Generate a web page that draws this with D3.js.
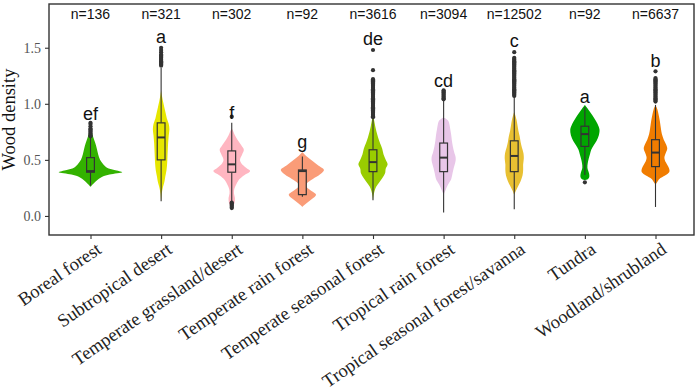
<!DOCTYPE html>
<html><head><meta charset="utf-8">
<script src="https://cdn.jsdelivr.net/npm/d3@7"></script>
<style>body{margin:0;background:#fff}</style>
</head><body>
<svg id="chart" width="700" height="391"></svg>
<script>
const categories = ["Boreal forest","Subtropical desert","Temperate grassland/desert","Temperate rain forest","Temperate seasonal forest","Tropical rain forest","Tropical seasonal forest/savanna","Tundra","Woodland/shrubland"];
const colors = ["#33b200","#e6e600","#ffb6c1","#fa9c78","#99cc00","#e8c6e8","#e8c032","#00a600","#f07c00"];
const nLabels = ["n=136","n=321","n=302","n=92","n=3616","n=3094","n=12502","n=92","n=6637"];
const sigLetters = ["ef","a","f","g","de","cd","c","a","b"];
const letterY = [0.86,1.54,0.865,0.61,1.52,1.147,1.51,1.01,1.33];
const nLabelY = 1.756;
const q1 = [0.39,0.50,0.39,0.19,0.395,0.395,0.395,0.62,0.44];
const median = [0.40,0.70,0.46,0.40,0.48,0.52,0.535,0.73,0.565];
const q3 = [0.52,0.83,0.58,0.41,0.59,0.65,0.67,0.80,0.68];
const whiskerLow = [0.27,0.13,0.13,0.17,0.14,0.03,0.06,0.365,0.08];
const whiskerHigh = [0.70,1.32,0.83,0.53,0.87,1.03,1.06,0.97,0.99];
const outliersBoreal = [0.71,0.72,0.73,0.74,0.75,0.76,0.77,0.78,0.80,0.82,0.83];
const outliersSubtropical = [1.34,1.35,1.36,1.37,1.38,1.39,1.40,1.41,1.42,1.43,1.44,1.46,1.48,1.50];
const outliersGrassland = [0.885,0.07,0.08,0.09,0.10,0.11,0.12];
const outliersTempRain = [];
const outliersTempSeasonal = [0.88,0.89,0.90,0.91,0.92,0.93,0.94,0.95,0.96,0.97,0.98,0.99,1.00,1.01,1.02,1.03,1.04,1.05,1.06,1.07,1.08,1.09,1.10,1.11,1.12,1.13,1.14,1.15,1.16,1.17,1.18,1.19,1.20,1.21,1.22,1.30,1.48];
const outliersTropRain = [1.04,1.05,1.06,1.07,1.08,1.09,1.10,1.11,1.12];
const outliersTropSeasonal = [1.07,1.08,1.09,1.10,1.11,1.12,1.13,1.14,1.15,1.16,1.17,1.18,1.19,1.20,1.21,1.22,1.23,1.24,1.25,1.26,1.27,1.28,1.29,1.30,1.31,1.32,1.33,1.34,1.35,1.36,1.37,1.38,1.39,1.40,1.41,1.46];
const outliersTundra = [0.30];
const outliersWoodland = [1.02,1.03,1.04,1.05,1.06,1.07,1.08,1.09,1.10,1.11,1.12,1.13,1.14,1.15,1.16,1.17,1.18,1.19,1.20,1.21,1.22,1.23,1.29];
const outliers = [outliersBoreal,outliersSubtropical,outliersGrassland,outliersTempRain,outliersTempSeasonal,outliersTropRain,outliersTropSeasonal,outliersTundra,outliersWoodland];
// violin profiles: [wood density, relative density width]
const violinBoreal = [[0.26,0],[0.27,0.03],[0.31,0.17],[0.35,0.37],[0.37,0.6],[0.39,1.0],[0.41,0.75],[0.43,0.52],[0.46,0.4],[0.50,0.3],[0.55,0.24],[0.60,0.2],[0.65,0.15],[0.70,0.09],[0.75,0.04],[0.83,0.01]];
const violinSubtropical = [[0.13,0],[0.20,0.02],[0.26,0.06],[0.30,0.1],[0.35,0.13],[0.41,0.17],[0.47,0.19],[0.53,0.2],[0.59,0.21],[0.65,0.22],[0.72,0.24],[0.77,0.26],[0.82,0.24],[0.87,0.18],[0.92,0.14],[0.97,0.1],[1.02,0.06],[1.08,0.02],[1.12,0]];
const violinGrassland = [[0.07,0],[0.09,0.05],[0.12,0.09],[0.16,0.1],[0.20,0.07],[0.24,0.08],[0.28,0.14],[0.32,0.22],[0.36,0.38],[0.40,0.58],[0.43,0.45],[0.47,0.3],[0.50,0.26],[0.55,0.33],[0.59,0.38],[0.63,0.3],[0.68,0.18],[0.72,0.1],[0.77,0.02],[0.78,0]];
const violinTempRain = [[0.08,0],[0.11,0.12],[0.15,0.3],[0.19,0.43],[0.22,0.3],[0.26,0.13],[0.29,0.14],[0.33,0.33],[0.37,0.55],[0.41,0.68],[0.45,0.5],[0.49,0.32],[0.53,0.14],[0.57,0]];
const violinTempSeasonal = [[0.14,0],[0.20,0.03],[0.26,0.1],[0.30,0.2],[0.34,0.3],[0.38,0.38],[0.42,0.4],[0.46,0.46],[0.50,0.4],[0.55,0.33],[0.60,0.29],[0.65,0.22],[0.70,0.16],[0.75,0.11],[0.80,0.07],[0.86,0.03],[0.90,0]];
const violinTropRain = [[0.19,0],[0.23,0.06],[0.28,0.14],[0.33,0.24],[0.38,0.28],[0.43,0.32],[0.48,0.37],[0.52,0.38],[0.57,0.33],[0.62,0.29],[0.67,0.26],[0.72,0.24],[0.77,0.21],[0.82,0.18],[0.85,0.14],[0.87,0.06],[0.875,0]];
const violinTropSeasonal = [[0.19,0],[0.23,0.06],[0.27,0.13],[0.31,0.2],[0.36,0.26],[0.41,0.28],[0.46,0.28],[0.51,0.3],[0.56,0.29],[0.61,0.24],[0.66,0.2],[0.71,0.17],[0.76,0.13],[0.81,0.1],[0.86,0.07],[0.93,0]];
const violinTundra = [[0.32,0],[0.33,0.1],[0.35,0.14],[0.38,0.13],[0.43,0.08],[0.47,0.09],[0.51,0.12],[0.55,0.16],[0.59,0.2],[0.63,0.28],[0.67,0.37],[0.72,0.44],[0.77,0.46],[0.82,0.4],[0.87,0.3],[0.92,0.18],[0.96,0.08],[0.99,0]];
const violinWoodland = [[0.28,0],[0.30,0.05],[0.33,0.12],[0.36,0.3],[0.39,0.43],[0.41,0.44],[0.44,0.4],[0.48,0.32],[0.52,0.28],[0.56,0.32],[0.60,0.37],[0.64,0.33],[0.68,0.26],[0.73,0.2],[0.78,0.17],[0.84,0.14],[0.90,0.1],[0.95,0.06],[0.99,0]];
const violins = [violinBoreal,violinSubtropical,violinGrassland,violinTempRain,violinTempSeasonal,violinTropRain,violinTropSeasonal,violinTundra,violinWoodland];
const yTicks = [0.0,0.5,1.0,1.5];
const yTitle = "Wood density";

const svg = d3.select("#chart");
const panel = {left:49, right:694, top:4, bottom:235};
const x = d3.scalePoint().domain(categories).range([90.5,655.5]);
const y = d3.scaleLinear().domain([-0.17,1.89]).range([panel.bottom,panel.top]);
const w = d3.scaleLinear().domain([0,1]).range([0, x.step()*0.45]);
const boxHalf = x.step()*0.055;

const g = svg.append("g");
categories.forEach((c,i)=>{
  const cx = x(c);
  const area = d3.area().curve(d3.curveCatmullRom.alpha(0.5))
    .y(d=>y(d[0])).x0(d=>cx - w(d[1])).x1(d=>cx + w(d[1]));
  g.append("path").attr("d", area(violins[i])).attr("fill", colors[i]).attr("stroke","none");
  g.append("line").attr("x1",cx).attr("x2",cx).attr("y1",y(whiskerLow[i])).attr("y2",y(q1[i])).attr("stroke","#333").attr("stroke-width",1.1);
  g.append("line").attr("x1",cx).attr("x2",cx).attr("y1",y(q3[i])).attr("y2",y(whiskerHigh[i])).attr("stroke","#333").attr("stroke-width",1.1);
  g.append("rect").attr("x",cx-boxHalf).attr("width",boxHalf*2).attr("y",y(q3[i])).attr("height",y(q1[i])-y(q3[i]))
    .attr("fill",colors[i]).attr("stroke","#333").attr("stroke-width",1.2);
  g.append("line").attr("x1",cx-boxHalf).attr("x2",cx+boxHalf).attr("y1",y(median[i])).attr("y2",y(median[i])).attr("stroke","#333").attr("stroke-width",2);
  g.selectAll(null).data(outliers[i]).enter().append("circle").attr("cx",cx).attr("cy",d=>y(d)).attr("r",2.1).attr("fill","#333");
  g.append("text").attr("x",cx).attr("y",y(letterY[i])).attr("text-anchor","middle")
    .attr("font-family","Liberation Sans, Arial, sans-serif").attr("font-size",18).attr("fill","#111").text(sigLetters[i]);
  g.append("text").attr("x",cx).attr("y",y(nLabelY)).attr("text-anchor","middle")
    .attr("font-family","Liberation Sans, Arial, sans-serif").attr("font-size",14).attr("fill","#111").text(nLabels[i]);
});

svg.append("rect").attr("x",panel.left).attr("y",panel.top).attr("width",panel.right-panel.left).attr("height",panel.bottom-panel.top)
  .attr("fill","none").attr("stroke","#333").attr("stroke-width",1.4);

const yAxis = svg.append("g").attr("transform",`translate(${panel.left},0)`)
  .call(d3.axisLeft(y).tickValues(yTicks).tickFormat(d3.format(".1f")).tickSize(4).tickPadding(4));
yAxis.select(".domain").remove();
yAxis.selectAll(".tick line").attr("stroke","#333").attr("stroke-width",1.1);
yAxis.selectAll(".tick text").attr("font-family","Liberation Serif, Times New Roman, serif").attr("font-size",14).attr("fill","#555");

const xAxis = svg.append("g").attr("transform",`translate(0,${panel.bottom})`)
  .call(d3.axisBottom(x).tickSize(4).tickFormat(""));
xAxis.select(".domain").remove();
xAxis.selectAll(".tick line").attr("stroke","#333").attr("stroke-width",1.1);
xAxis.selectAll(".tick").append("text")
  .attr("transform","translate(4,6) rotate(-34.5)")
  .attr("text-anchor","end").attr("dy","0.72em")
  .attr("font-family","Liberation Serif, Times New Roman, serif").attr("font-size",18.5).attr("fill","#222")
  .text(d=>d);

svg.append("text").attr("transform",`translate(15,${(panel.top+panel.bottom)/2}) rotate(-90)`)
  .attr("text-anchor","middle").attr("font-family","Liberation Serif, Times New Roman, serif").attr("font-size",18.5).attr("fill","#111")
  .text(yTitle);
</script>
</body></html>
